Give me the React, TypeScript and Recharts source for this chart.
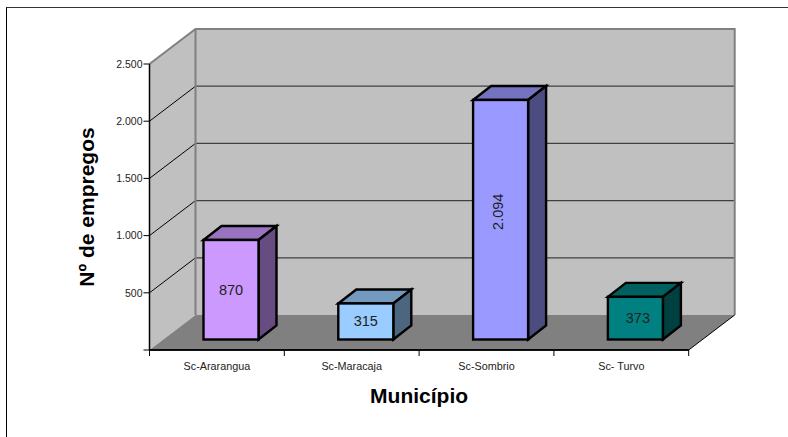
import React from 'react';
import { BarChart, Bar, XAxis, YAxis, ReferenceArea, LabelList, Label } from 'recharts';

const MUNICIPIOS = ['Sc-Ararangua', 'Sc-Maracaja', 'Sc-Sombrio', 'Sc- Turvo'];
const EMPREGOS = [870, 315, 2094, 373];
const Y_TICKS = [0, 500, 1000, 1500, 2000, 2500];

const FRONT_COLORS = ['#cc99ff', '#99ccff', '#9999ff', '#008080'];
const TOP_COLORS = ['#9973bf', '#7399bf', '#7373bf', '#006060'];
const SIDE_COLORS = ['#664c80', '#4c6680', '#4c4c80', '#004040'];

const data = MUNICIPIOS.map((name, i) => ({ name, value: EMPREGOS[i] }));

const FONT = '"Liberation Sans", Arial, sans-serif';
const Y_MAX = 2500;

// Profundidade das paredes e das barras no falso 3D
const WALL_DX = 46;
const WALL_DY = -35;
const BAR_OFFSET_X = 14;
const BAR_OFFSET_Y = -10.5;
const BAR_DX = 18;
const BAR_DY = -14;

const formatThousands = (v: number) => (v === 0 ? '' : String(v).replace(/\B(?=(\d{3})+$)/g, '.'));

const pts = (...p: number[][]) => p.map((c) => c.join(',')).join(' ');

const Walls = ({ x, y, width, height }: any) => {
  const bottom = y + height;
  const right = x + width;
  const bx = x + WALL_DX;
  const btop = y + WALL_DY;
  const bbottom = bottom + WALL_DY;
  const gridTicks = Y_TICKS.filter((t) => t > 0 && t < Y_MAX);
  return (
    <g>
      <polygon points={pts([x, y], [bx, btop], [bx, bbottom], [x, bottom])} fill="#c0c0c0" />
      <rect x={bx} y={btop} width={width} height={height} fill="#c0c0c0" />
      <polygon points={pts([x, bottom], [right, bottom], [right + WALL_DX, bbottom], [bx, bbottom])} fill="#808080" />
      {gridTicks.map((t) => {
        const gy = bottom - (t / Y_MAX) * height;
        return (
          <g key={t}>
            <line x1={x} y1={gy} x2={bx} y2={gy + WALL_DY} stroke="#000" strokeWidth={1} />
            <line x1={bx} y1={gy + WALL_DY} x2={right + WALL_DX} y2={gy + WALL_DY} stroke="#404040" strokeWidth={1.2} />
          </g>
        );
      })}
      <polyline
        points={pts([x, y], [bx, btop], [right + WALL_DX, btop], [right + WALL_DX, bbottom])}
        fill="none"
        stroke="#808080"
        strokeWidth={2}
      />
      <line x1={bx} y1={btop} x2={bx} y2={bbottom} stroke="#808080" strokeWidth={2} />
      <line x1={right} y1={bottom} x2={right + WALL_DX} y2={bbottom} stroke="#000" strokeWidth={1} />
      <line x1={x} y1={bottom} x2={right} y2={bottom} stroke="#000" strokeWidth={1.5} />
    </g>
  );
};

const Bar3D = ({ x, y, width, height, index }: any) => {
  const fx = x + BAR_OFFSET_X;
  const fy = y + BAR_OFFSET_Y;
  const rx = fx + width;
  const by = fy + height;
  const common = { stroke: '#000', strokeWidth: 2.4, strokeLinejoin: 'miter' as const };
  return (
    <g>
      <polygon points={pts([fx, fy], [fx + BAR_DX, fy + BAR_DY], [rx + BAR_DX, fy + BAR_DY], [rx, fy])} fill={TOP_COLORS[index]} {...common} />
      <polygon points={pts([rx, fy], [rx + BAR_DX, fy + BAR_DY], [rx + BAR_DX, by + BAR_DY], [rx, by])} fill={SIDE_COLORS[index]} {...common} />
      <rect x={fx} y={fy} width={width} height={height} fill={FRONT_COLORS[index]} {...common} />
    </g>
  );
};

const ValueLabel = ({ x, y, width, height, value, index }: any) => {
  const tall = value >= 1000;
  const extraX = index === 3 ? 2.5 : tall ? -3 : 0;
  const extraY = tall ? -8 : 0;
  const cx = x + BAR_OFFSET_X + width / 2 + extraX;
  const cy = y + BAR_OFFSET_Y + height / 2 + extraY;
  return (
    <text
      x={cx}
      y={cy}
      textAnchor="middle"
      dominantBaseline="central"
      fontFamily={FONT}
      fontSize={14.5}
      fill="#222"
      transform={tall ? `rotate(-90 ${cx} ${cy})` : undefined}
    >
      {formatThousands(value)}
    </text>
  );
};

// Os traços do eixo X ficam nos limites de cada categoria, não no centro.
// O y recebido já vem deslocado pelo tickSize + tickMargin padrão (8px).
const CategoryTick = ({ x, y, payload, index, bandWidth }: any) => {
  const axisY = y - 8;
  const left = x - bandWidth / 2;
  const right = x + bandWidth / 2;
  return (
    <g>
      <line x1={left} y1={axisY} x2={left} y2={axisY + 6} stroke="#000" />
      {index === MUNICIPIOS.length - 1 && <line x1={right} y1={axisY} x2={right} y2={axisY + 6} stroke="#000" />}
      <text x={x} y={axisY + 16} textAnchor="middle" dominantBaseline="central" fontFamily={FONT} fontSize={10.8} fill="#222">
        {payload.value}
      </text>
    </g>
  );
};

const CHART_W = 788;
const CHART_H = 437;
const MARGIN = { top: 64, right: 99.3, bottom: 0, left: 0 };
const Y_AXIS_W = 149.5;

export default function App() {
  const bandWidth = (CHART_W - Y_AXIS_W - MARGIN.right) / MUNICIPIOS.length;
  return (
    <div style={{ position: 'absolute', left: 0, top: 0, width: CHART_W, height: CHART_H, background: '#fff', overflow: 'hidden' }}>
      <div style={{ position: 'absolute', left: 6, top: 7, right: -4, bottom: -4, borderLeft: '1.5px solid #000', borderTop: '1.5px solid #333' }} />
      <BarChart width={CHART_W} height={CHART_H} data={data} margin={MARGIN} barSize={55}>
        <ReferenceArea y1={0} y2={Y_MAX} shape={<Walls />} />
        <XAxis
          dataKey="name"
          height={87}
          interval={0}
          tickLine={false}
          axisLine={{ stroke: '#000', strokeWidth: 1.5 }}
          tick={<CategoryTick bandWidth={bandWidth} />}
        >
          <Label value="Município" position="insideBottom" offset={34} fontFamily={FONT} fontSize={21} fontWeight="bold" fill="#000" />
        </XAxis>
        <YAxis
          type="number"
          width={Y_AXIS_W}
          domain={[0, Y_MAX]}
          ticks={Y_TICKS}
          interval={0}
          tickFormatter={formatThousands}
          tick={{ fontFamily: FONT, fontSize: 10.5, fill: '#222' }}
          tickSize={6}
          tickMargin={1}
          tickLine={{ stroke: '#000' }}
          axisLine={{ stroke: '#000', strokeWidth: 1.5 }}
        >
          <Label value="Nº de empregos" angle={-90} position="insideLeft" textAnchor="middle" offset={87} fontFamily={FONT} fontSize={21} fontWeight="bold" fill="#000" />
        </YAxis>
        <Bar dataKey="value" shape={<Bar3D />} isAnimationActive={false}>
          <LabelList dataKey="value" content={<ValueLabel />} />
        </Bar>
      </BarChart>
    </div>
  );
}
